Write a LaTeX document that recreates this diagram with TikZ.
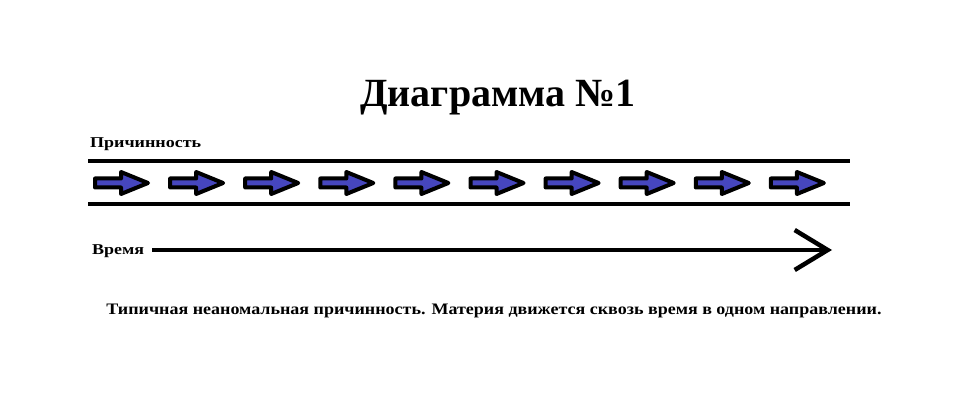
\documentclass[tikz,border=0pt]{standalone}
\usepackage{fontspec}
\setmainfont{Liberation Serif}
\newfontfamily\labelfont[FakeStretch=1.2]{Liberation Serif}
\newfontfamily\captionfont[FakeStretch=1.125]{Liberation Serif}
\usetikzlibrary{arrows.meta}
\definecolor{arrowblue}{RGB}{70,70,190}
\tikzset{
  causal/.style={draw=black, line width=4pt, fill=arrowblue, line join=round},
  band/.style={line width=4pt},
  lbl/.style={font=\labelfont\bfseries\fontsize{15}{17}\selectfont, anchor=base west, inner sep=0pt},
}

\begin{document}
\begin{tikzpicture}[x=1pt, y=-1pt]
  \useasboundingbox (0,0) rectangle (959,406);
  \node[font=\bfseries\fontsize{40}{44}\selectfont, anchor=base, inner sep=0pt] (title) at (498,107) {Диаграмма №1};
  \node[lbl] (prich) at (90,148) {Причинность};
  % полоса причинности
  \draw[band] (88,161) -- (850,161);
  \draw[band] (88,204) -- (850,204);
  \foreach \i in {0,...,9}{
    \draw[causal, shift={(95+75.1*\i,183)}] (0,-4.5) -- (26,-4.5) -- (26,-11) -- (53,0) -- (26,11) -- (26,4.5) -- (0,4.5) -- cycle;
  }
  % ось времени
  \node[lbl] (vremya) at (92,255) {Время};
  \coordinate (tStart) at (152,250);
  \coordinate (tEnd) at (832,250);
  \draw[line width=4.5pt, -{Straight Barb[length=33pt, width=40pt]}] (tStart) -- (tEnd);
  \node[font=\captionfont\bfseries\fontsize{16}{18}\selectfont, anchor=base, inner sep=0pt] (caption) at (494,314)
    {Типичная неаномальная причинность. Материя движется сквозь время в одном направлении.};
\end{tikzpicture}
\end{document}
